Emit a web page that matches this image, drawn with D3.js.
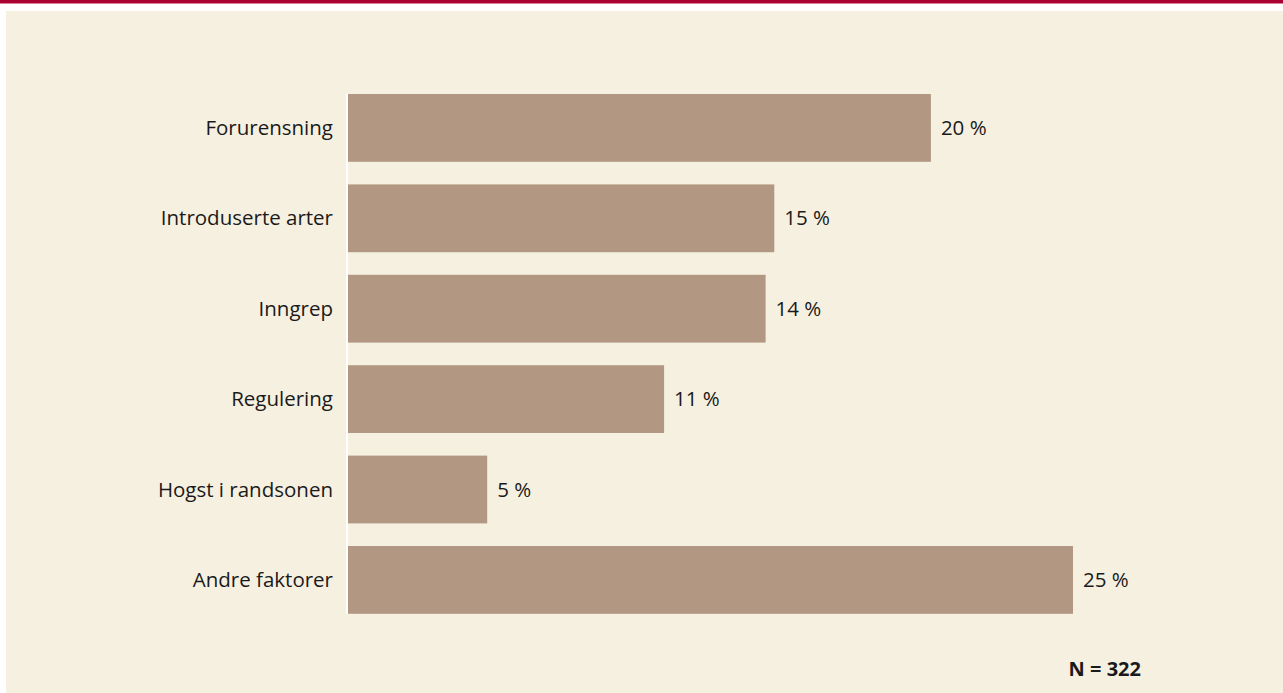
<!DOCTYPE html>
<html>
<head>
<meta charset="utf-8">
<script src="https://cdn.jsdelivr.net/npm/d3@7"></script>
<style>
  html, body { margin: 0; padding: 0; background: #ffffff; }
  svg { display: block; font-family: "Open Sans", "Noto Sans", sans-serif; }
</style>
</head>
<body>
<svg id="chart" width="1283" height="693"></svg>
<script>
// Data
const categories = ["Forurensning", "Introduserte arter", "Inngrep", "Regulering", "Hogst i randsonen", "Andre faktorer"];
const values = [20.1, 14.7, 14.4, 10.9, 4.8, 25];
const valueLabels = ["20 %", "15 %", "14 %", "11 %", "5 %", "25 %"];
const noteText = "N = 322";

// Layout
const W = 1283, H = 693;
const X0 = 348, X_PER_UNIT = 29;
const Y_TOP = 82.7, Y_BOTTOM = 625.1;

const svg = d3.select("#chart");

// Header stripe and panel
svg.append("rect").attr("x", 0).attr("y", 0).attr("width", W).attr("height", 3.5).attr("fill", "#ab0033");
svg.append("rect").attr("x", 6).attr("y", 11).attr("width", W - 6).attr("height", H - 11).attr("fill", "#f6f0e1");

const x = d3.scaleLinear()
    .domain([0, 25])
    .range([X0, X0 + 25 * X_PER_UNIT]);

const y = d3.scaleBand()
    .domain(categories)
    .range([Y_TOP, Y_BOTTOM])
    .paddingInner(0.25)
    .paddingOuter(0.125);

const rows = categories.map((c, i) => ({ cat: c, value: values[i], label: valueLabels[i] }));

// Bars
svg.append("g").selectAll("rect")
    .data(rows)
    .join("rect")
    .attr("x", x(0))
    .attr("y", d => y(d.cat))
    .attr("width", d => x(d.value) - x(0))
    .attr("height", y.bandwidth())
    .attr("fill", "#b29883");

// Vertical axis line
svg.append("line")
    .attr("x1", x(0) - 1).attr("x2", x(0) - 1)
    .attr("y1", y(categories[0])).attr("y2", y(categories[categories.length - 1]) + y.bandwidth())
    .attr("stroke", "#ffffff")
    .attr("stroke-width", 2);

// Category labels
svg.append("g").selectAll("text")
    .data(rows)
    .join("text")
    .attr("x", x(0) - 15)
    .attr("y", d => y(d.cat) + y.bandwidth() / 2)
    .attr("dy", "0.35em")
    .attr("text-anchor", "end")
    .attr("fill", "#1a1a1a")
    .style("font-size", "20.5px")
    .text(d => d.cat);

// Value labels
svg.append("g").selectAll("text")
    .data(rows)
    .join("text")
    .attr("x", d => x(d.value) + 10)
    .attr("y", d => y(d.cat) + y.bandwidth() / 2)
    .attr("dy", "0.35em")
    .attr("fill", "#1a1a1a")
    .style("font-size", "20.5px")
    .text(d => d.label);

// Note
svg.append("text")
    .attr("x", 1141)
    .attr("y", 669)
    .attr("dy", "0.35em")
    .attr("text-anchor", "end")
    .attr("fill", "#1a1a1a")
    .style("font-size", "20px")
    .style("font-weight", "bold")
    .text(noteText);
</script>
</body>
</html>
